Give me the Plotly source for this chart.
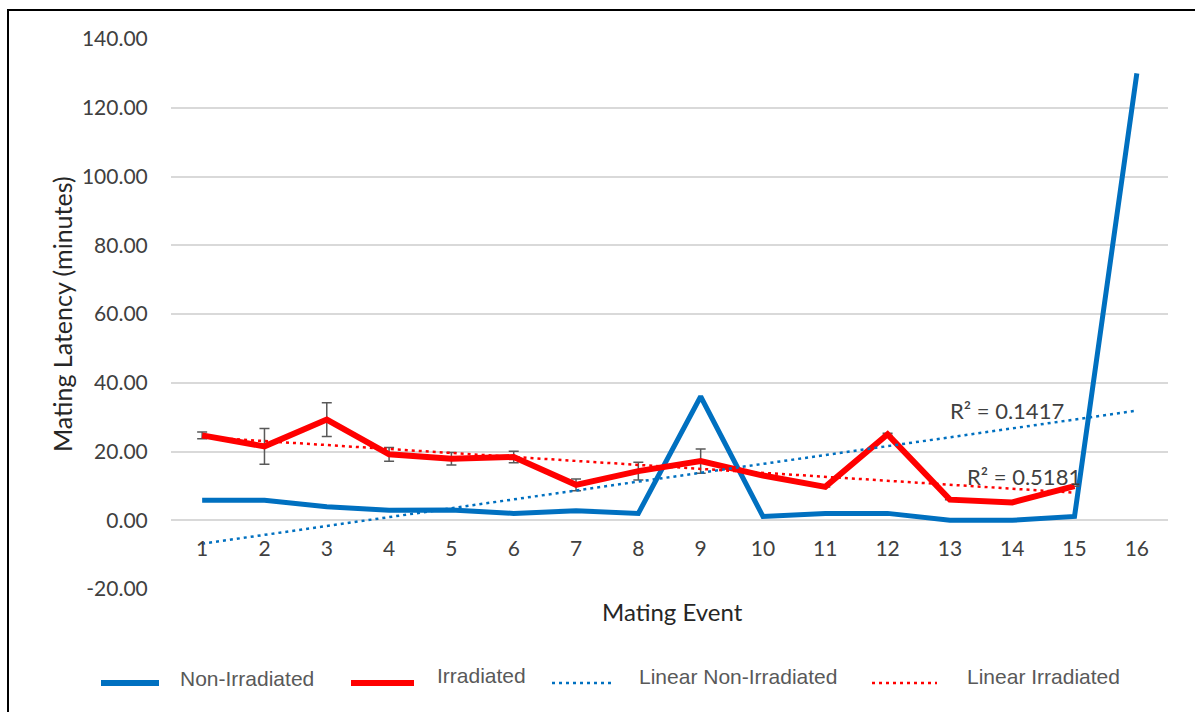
import plotly.graph_objects as go
import numpy as np

# Mating events along the category axis
events = list(range(1, 17))

# Mean mating latency (minutes) per event
non_irradiated = [5.8, 5.8, 3.9, 2.9, 3.0, 2.0, 2.8, 2.0, 36.0, 1.1, 2.0, 2.0, 0.0, 0.0, 1.1, 130.0]
irradiated = [24.7, 21.5, 29.3, 19.2, 17.9, 18.4, 10.3, 14.3, 17.2, 13.0, 9.7, 25.0, 6.0, 5.2, 9.9]
irradiated_err = [1.0, 5.2, 4.9, 2.0, 1.8, 1.7, 1.7, 2.6, 3.5, 0.0, 0.0, 0.3, 0.0, 0.0, 0.0]

# R-squared values printed beside the trendlines
r2_non_irradiated = "R² = 0.1417"
r2_irradiated = "R² = 0.5181"

y_ticks = [-20, 0, 20, 40, 60, 80, 100, 120, 140]
y_ticktext = [f"{v:.2f}" for v in y_ticks]

BLUE = "#0070C0"
RED = "#FF0000"
TEXT = "#404040"
FONT = "Lato"

x_irr = events[:len(irradiated)]

# Least-squares linear trendlines
b1, a1 = np.polyfit(events, non_irradiated, 1)
b2, a2 = np.polyfit(x_irr, irradiated, 1)
trend_non = [a1 + b1 * x for x in events]
trend_irr = [a2 + b2 * x for x in x_irr]

fig = go.Figure()
fig.add_trace(go.Scatter(
    x=events, y=non_irradiated, mode="lines", name="Non-Irradiated",
    line=dict(color=BLUE, width=5), showlegend=False))
fig.add_trace(go.Scatter(
    x=x_irr, y=irradiated, mode="lines", name="Irradiated",
    line=dict(color=RED, width=6), showlegend=False,
    error_y=dict(type="data", array=irradiated_err, visible=True,
                 color="#595959", thickness=1.5, width=5)))
fig.add_trace(go.Scatter(
    x=events, y=trend_non, mode="lines", name="Linear Non-Irradiated",
    line=dict(color=BLUE, width=2.5, dash="3px,4px"), showlegend=False))
fig.add_trace(go.Scatter(
    x=x_irr, y=trend_irr, mode="lines", name="Linear Irradiated",
    line=dict(color=RED, width=2.5, dash="3px,4px"), showlegend=False))

# Plot area geometry in pixels (figure is 1195 x 712)
L, R, T, B = 171, 1168, 39, 589
W, H = 1195, 712


def px_x(px):
    return (px - L) / (R - L)


def px_y(py):
    return (B - py) / (B - T)


annotations = [
    dict(text="Mating Event", x=px_x(672), y=px_y(611), xref="paper", yref="paper",
         showarrow=False, font=dict(family=FONT, size=24, color="#262626"),
         xanchor="center", yanchor="middle"),
    dict(text="Mating Latency (minutes)", x=px_x(62), y=px_y(314), xref="paper", yref="paper",
         showarrow=False, textangle=-90, font=dict(family=FONT, size=25, color="#262626"),
         xanchor="center", yanchor="middle"),
    dict(text=r2_non_irradiated, x=px_x(1007), y=px_y(410), xref="paper", yref="paper",
         showarrow=False, xanchor="center", yanchor="middle",
         font=dict(family=FONT, size=22, color=TEXT)),
    dict(text=r2_irradiated, x=px_x(1024), y=px_y(476), xref="paper", yref="paper",
         showarrow=False, xanchor="center", yanchor="middle",
         font=dict(family=FONT, size=22, color=TEXT)),
]

# Legend row drawn below the plot
legend_items = [
    ("Non-Irradiated", BLUE, 6, "solid", 101, 159, 178, 678),
    ("Irradiated", RED, 6, "solid", 351, 414, 435, 675),
    ("Linear Non-Irradiated", BLUE, 2.5, "3px,4px", 552, 611, 637, 676),
    ("Linear Irradiated", RED, 2.5, "3px,4px", 872, 937, 965, 676),
]
shapes = []
for label, color, width, dash, sx0, sx1, tx, ty in legend_items:
    shapes.append(dict(type="line", xref="paper", yref="paper",
                       x0=px_x(sx0), x1=px_x(sx1), y0=px_y(683), y1=px_y(683),
                       line=dict(color=color, width=width, dash=dash)))
    annotations.append(dict(text=label, x=px_x(tx), y=px_y(ty), xref="paper", yref="paper",
                            showarrow=False, xanchor="left", yanchor="middle",
                            font=dict(family="Liberation Sans", size=21, color="#595959")))

# Outer frame
shapes.append(dict(type="rect", xref="paper", yref="paper",
                   x0=px_x(8), x1=px_x(1240), y0=px_y(760), y1=px_y(10),
                   line=dict(color="black", width=2), layer="above"))

fig.update_layout(
    width=W, height=H,
    margin=dict(l=L, r=W - R, t=T, b=H - B),
    paper_bgcolor="white", plot_bgcolor="white",
    font=dict(family=FONT, color=TEXT),
    showlegend=False,
    annotations=annotations,
    shapes=shapes,
    xaxis=dict(
        range=[0.5, 16.5], tickmode="array", tickvals=events,
        ticktext=[str(e) for e in events],
        showgrid=False, zeroline=False, showline=False,
        anchor="free", position=px_y(520),
        ticks="outside", ticklen=10, tickcolor="rgba(0,0,0,0)",
        tickfont=dict(family=FONT, size=21, color=TEXT),
    ),
    yaxis=dict(
        range=[-20, 140], tickmode="array", tickvals=y_ticks, ticktext=y_ticktext,
        showgrid=True, gridcolor="#D9D9D9", gridwidth=1.5,
        zeroline=False, showline=False,
        ticks="outside", ticklen=18, tickcolor="rgba(0,0,0,0)",
        tickfont=dict(family=FONT, size=21, color=TEXT),
    ),
)

fig.write_html("out.html")
